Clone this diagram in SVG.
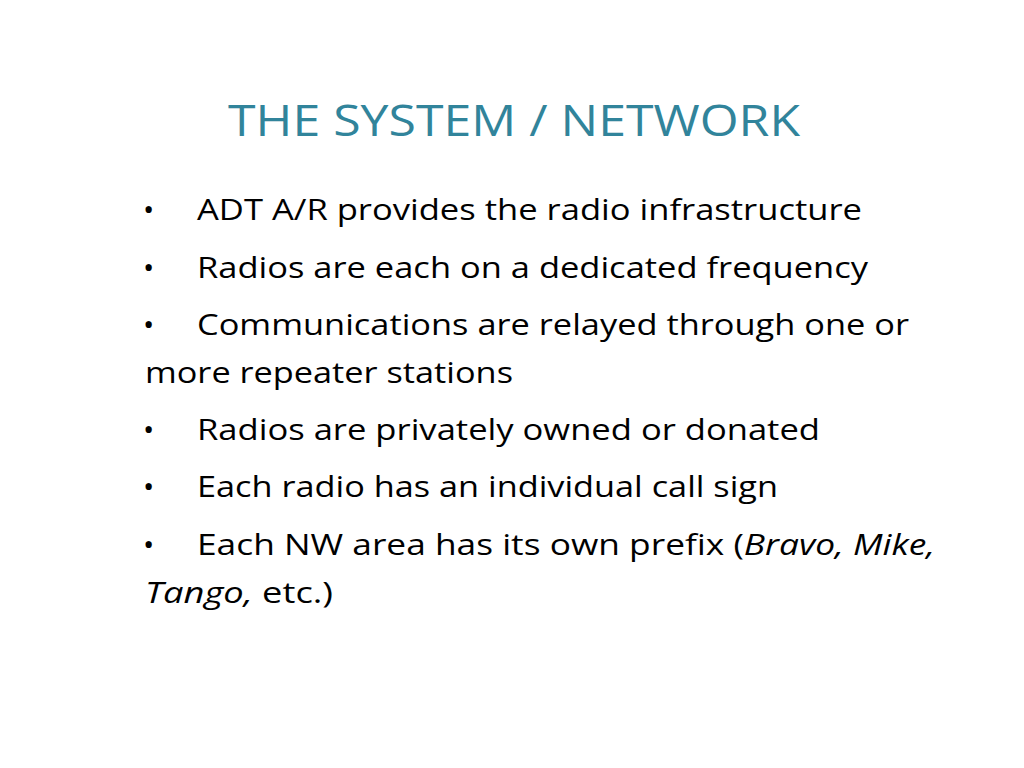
<svg xmlns="http://www.w3.org/2000/svg" width="1024" height="768" viewBox="0 0 1024 768">
<style>
.t{font-family:"Open Sans","Liberation Sans",sans-serif;font-size:44px;fill:#31849B}
.b{font-family:"Open Sans","Liberation Sans",sans-serif;font-size:30px;fill:#000}
.i{font-style:italic}
</style>
<rect width="1024" height="768" fill="#fff"/>
<text class="t" x="228" y="136" textLength="572" lengthAdjust="spacingAndGlyphs">THE SYSTEM / NETWORK</text>
<g id="bullets">
<text class="b" x="143" y="220">•</text>
<text class="b" x="197" y="220" textLength="665" lengthAdjust="spacingAndGlyphs">ADT A/R provides the radio infrastructure</text>
<text class="b" x="143" y="278">•</text>
<text class="b" x="197" y="278" textLength="671" lengthAdjust="spacingAndGlyphs">Radios are each on a dedicated frequency</text>
<text class="b" x="143" y="335">•</text>
<text class="b" x="197" y="335" textLength="712" lengthAdjust="spacingAndGlyphs">Communications are relayed through one or</text>
<text class="b" x="145" y="383" textLength="368" lengthAdjust="spacingAndGlyphs">more repeater stations</text>
<text class="b" x="143" y="440">•</text>
<text class="b" x="197" y="440" textLength="623" lengthAdjust="spacingAndGlyphs">Radios are privately owned or donated</text>
<text class="b" x="143" y="497">•</text>
<text class="b" x="197" y="497" textLength="581" lengthAdjust="spacingAndGlyphs">Each radio has an individual call sign</text>
<text class="b" x="143" y="555">•</text>
<text class="b" x="197" y="555" textLength="738" lengthAdjust="spacingAndGlyphs">Each NW area has its own prefix (<tspan class="i">Bravo, Mike,</tspan></text>
<text class="b" x="145" y="603" textLength="188" lengthAdjust="spacingAndGlyphs"><tspan class="i">Tango,</tspan> etc.)</text>
</g>
</svg>
